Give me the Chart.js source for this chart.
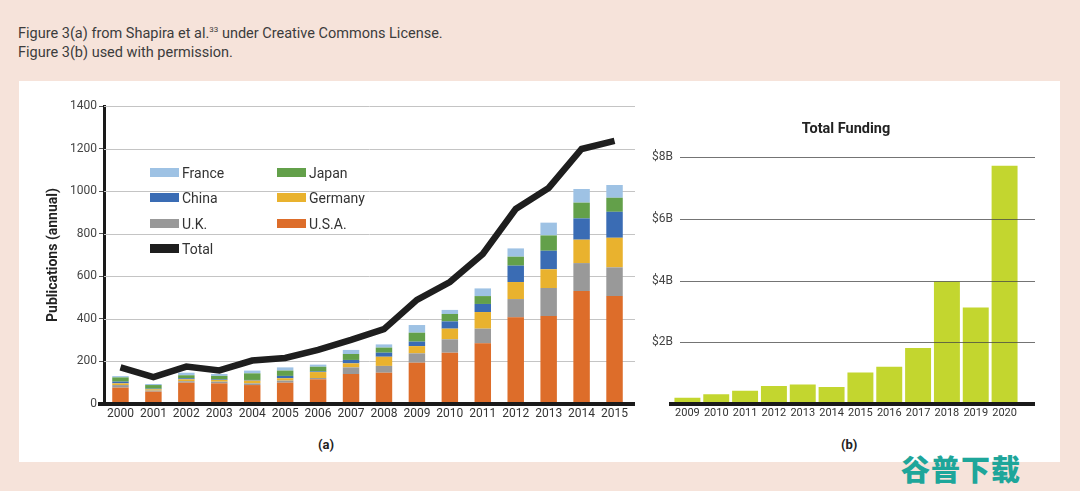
<!DOCTYPE html>
<html>
<head>
<meta charset="utf-8">
<script src="https://cdn.jsdelivr.net/npm/chart.js@4.4.1/dist/chart.umd.min.js"></script>
<style>
    body { margin: 0; width: 1080px; height: 491px; background: #f6e3da; font-family: Roboto, sans-serif; position: relative; overflow: hidden; }
    #note { position: absolute; left: 18px; top: 24px; font-size: 14.5px; line-height: 19px; color: #3c3c3c; }
    #note sup { font-size: 8px; vertical-align: 6px; line-height: 0; }
    #panel { position: absolute; left: 19px; top: 81px; width: 1041px; height: 381px; background: #fff; }
    #pubWrap { position: absolute; left: 20px; top: 90px; width: 620px; height: 335px; }
    #fundWrap { position: absolute; left: 640px; top: 100px; width: 410px; height: 325px; }
    .cap { position: absolute; top: 437px; font-weight: bold; font-size: 13px; color: #222; }
    #legend { position: absolute; left: 150px; top: 164px; width: 260px; }
    .item { position: absolute; font-size: 14px; color: #333; line-height: 18px; white-space: nowrap; }
    .item span { display: inline-block; width: 29px; height: 9px; margin-right: 3px; vertical-align: 1px; }
    #wm { position: absolute; left: 901px; top: 447px; font-size: 29px; font-weight: 900; color: #1ea69a; font-family: "Noto Sans CJK SC"; letter-spacing: 1px; }
</style>
</head>
<body>
<div id="note">Figure 3(a) from Shapira et al.<sup>33</sup> under Creative Commons License.<br>Figure 3(b) used with permission.</div>
<div id="panel"></div>
<div id="pubWrap"><canvas id="pubChart"></canvas></div>
<div id="fundWrap"><canvas id="fundChart"></canvas></div>
<div id="legend"></div>
<div class="cap" style="left:318px">(a)</div>
<div class="cap" style="left:841px">(b)</div>
<div id="wm">谷普下载</div>
<script>
// Figure 3(a): publications per year
const years = ["2000", "2001", "2002", "2003", "2004", "2005", "2006", "2007", "2008", "2009", "2010", "2011", "2012", "2013", "2014", "2015"];
const usa = [77, 58, 100, 97, 89, 100, 116, 141, 147, 194, 241, 285, 407, 413, 531, 507];
const uk = [12, 5, 7, 8, 8, 10, 6, 31, 32, 44, 63, 69, 86, 132, 131, 135];
const germany = [8, 6, 9, 8, 13, 11, 28, 19, 43, 34, 50, 78, 80, 88, 110, 139];
const china = [8, 3, 5, 3, 3, 11, 3, 16, 19, 21, 34, 38, 77, 87, 100, 122];
const japan = [20, 17, 14, 16, 31, 25, 22, 28, 24, 42, 35, 37, 42, 72, 74, 66];
const france = [6, 5, 12, 9, 13, 15, 10, 19, 15, 36, 19, 36, 39, 60, 64, 60];
const total = [172, 126, 176, 158, 204, 216, 254, 301, 352, 489, 573, 705, 916, 1015, 1198, 1236];

// Figure 3(b): total funding, billions of dollars
const fundYears = ["2009", "2010", "2011", "2012", "2013", "2014", "2015", "2016", "2017", "2018", "2019", "2020"];
const funding = [0.20, 0.32, 0.43, 0.58, 0.63, 0.55, 1.02, 1.21, 1.82, 3.97, 3.13, 7.73];

const colors = {
    France: "#9ec2e4",
    Japan: "#63a04a",
    China: "#3a6cb4",
    Germany: "#e9b22e",
    "U.K.": "#999999",
    "U.S.A.": "#dd6d2a",
    Total: "#1e1e1e",
};

// draws horizontal guide lines and the base line, can run past the chart area
const guides = {
    id: "guides",
    drawLines(chart) {
        const o = chart.options.plugins.guides;
        const { ctx, chartArea } = chart;
        const y = chart.scales.y;
        ctx.save();
        ctx.strokeStyle = o.color;
        ctx.lineWidth = 1;
        y.ticks.forEach((t) => {
            if (t.value === 0) return;
            const py = Math.round(y.getPixelForValue(t.value)) + 0.5;
            ctx.beginPath();
            ctx.moveTo(chartArea.left + o.from, py);
            ctx.lineTo(chartArea.right + o.to, py);
            ctx.stroke();
        });
        ctx.restore();
    },
    beforeDatasetsDraw(chart) {
        if (!chart.options.plugins.guides.over) this.drawLines(chart);
    },
    afterDatasetsDraw(chart) {
        const o = chart.options.plugins.guides;
        if (o.over) this.drawLines(chart);
        const { ctx, chartArea } = chart;
        const py = chart.scales.y.getPixelForValue(0);
        ctx.save();
        ctx.strokeStyle = "#1a1a1a";
        ctx.lineWidth = o.baseWidth;
        ctx.beginPath();
        ctx.moveTo(chartArea.left + o.baseFrom, py);
        ctx.lineTo(chartArea.right + o.to, py);
        ctx.stroke();
        ctx.restore();
    },
};

function barSet(label, data) {
    return {
        type: "bar",
        label: label,
        data: data,
        backgroundColor: colors[label],
        stack: "countries",
        barPercentage: 0.5,
        categoryPercentage: 1,
        order: 1,
    };
}

const pubChart = new Chart(document.getElementById("pubChart"), {
    data: {
        labels: years,
        datasets: [
            {
                type: "line",
                label: "Total",
                data: total,
                borderColor: colors.Total,
                borderWidth: 6.5,
                pointRadius: 0,
                tension: 0,
                stack: "total",
                order: 0,
            },
            barSet("U.S.A.", usa),
            barSet("U.K.", uk),
            barSet("Germany", germany),
            barSet("China", china),
            barSet("Japan", japan),
            barSet("France", france),
        ],
    },
    options: {
        responsive: true,
        maintainAspectRatio: false,
        animation: false,
        layout: { padding: { top: 16, right: 9, left: 0, bottom: 0 } },
        plugins: {
            legend: { display: false },
            tooltip: { enabled: false },
            guides: { color: "#c4c4c4", from: 0, to: 4, over: false, baseFrom: -6, baseWidth: 4 },
        },
        scales: {
            x: {
                stacked: true,
                grid: { display: false, drawTicks: false, tickLength: 0 },
                border: { display: false },
                ticks: { color: "#333", font: { family: "Roboto", size: 12 }, padding: 3, maxRotation: 0, autoSkip: false },
                afterFit: (s) => { s.height = 21; },
            },
            y: {
                stacked: true,
                min: 0,
                max: 1400,
                ticks: { stepSize: 200, color: "#444", font: { family: "Roboto", size: 12 }, padding: 2, callback: (v) => String(v) },
                grid: { drawOnChartArea: false, tickLength: 5, tickColor: "#555" },
                border: { color: "#1a1a1a", width: 3 },
                title: {
                    display: true,
                    text: "Publications (annual)",
                    color: "#222",
                    font: { family: "Roboto", size: 14, weight: "bold" },
                    padding: { top: 25, bottom: 0 },
                },
                afterFit: (s) => { s.width = 84; },
            },
        },
    },
    plugins: [guides],
});

const fundChart = new Chart(document.getElementById("fundChart"), {
    type: "bar",
    data: {
        labels: fundYears,
        datasets: [
            {
                label: "Total Funding",
                data: funding,
                backgroundColor: "#c3d62f",
                barPercentage: 0.9,
                categoryPercentage: 1,
            },
        ],
    },
    options: {
        responsive: true,
        maintainAspectRatio: false,
        animation: false,
        layout: { padding: { top: 0, right: 31, left: 0, bottom: 0 } },
        plugins: {
            legend: { display: false },
            tooltip: { enabled: false },
            title: {
                display: true,
                fullSize: false,
                text: "Total Funding",
                color: "#222",
                font: { family: "Roboto", size: 14.5, weight: "bold" },
                padding: { top: 21, bottom: 19 },
            },
            guides: { color: "rgba(70,70,70,0.75)", from: 7, to: 16, over: true, baseFrom: -4, baseWidth: 4 },
        },
        scales: {
            x: {
                grid: { display: false, drawTicks: false, tickLength: 0 },
                border: { display: false },
                ticks: { color: "#333", font: { family: "Roboto", size: 11 }, padding: 3, maxRotation: 0, autoSkip: false },
                afterFit: (s) => { s.height = 21; },
            },
            y: {
                min: 0,
                max: 8,
                ticks: {
                    stepSize: 2,
                    color: "#444",
                    font: { family: "Roboto", size: 12 },
                    padding: 0,
                    callback: (v) => (v === 0 ? "" : "$" + v + "B"),
                },
                grid: { display: false, drawTicks: false, tickLength: 0 },
                border: { display: false },
                afterFit: (s) => { s.width = 33; },
            },
        },
    },
    plugins: [guides],
});

// legend laid out in two columns inside the left plot
const legendOrder = ["France", "Japan", "China", "Germany", "U.K.", "U.S.A.", "Total"];
const legendBox = document.getElementById("legend");
legendOrder.forEach((name, i) => {
    const item = document.createElement("div");
    item.className = "item";
    item.style.left = (i % 2) * 127 + "px";
    item.style.top = Math.floor(i / 2) * 25.3 + "px";
    item.innerHTML = `<span style="background:${colors[name]}"></span>${name}`;
    legendBox.appendChild(item);
});
</script>
</body>
</html>
